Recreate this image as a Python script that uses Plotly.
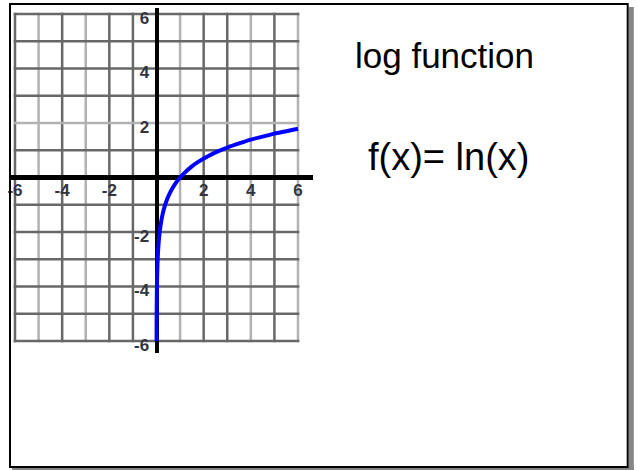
import plotly.graph_objects as go

# ---- data ----
curve_x = [0.0025, 0.004, 0.006, 0.01, 0.015, 0.02, 0.03, 0.045, 0.06, 0.08, 0.1, 0.13,
           0.17, 0.22, 0.28, 0.35, 0.45, 0.55, 0.7, 0.85, 1.0, 1.2, 1.5, 1.8, 2.2, 2.6,
           3.0, 3.5, 4.0, 4.5, 5.0, 5.5, 6.0]
curve_y = [-6.0, -5.52, -5.12, -4.61, -4.2, -3.91, -3.51, -3.1, -2.81, -2.53, -2.3, -2.04,
           -1.77, -1.51, -1.27, -1.05, -0.8, -0.6, -0.36, -0.16, 0.0, 0.18, 0.41, 0.59,
           0.79, 0.96, 1.1, 1.25, 1.39, 1.5, 1.61, 1.7, 1.79]

grid_x = [-6, -5, -4, -3, -2, -1, 1, 2, 3, 4, 5, 6]
grid_y = [-6, -5, -4, -3, -2, -1, 1, 2, 3, 4, 5, 6]
tick_vals = [-6, -4, -2, 2, 4, 6]
tick_text = ["-6", "-4", "-2", "2", "4", "6"]
title_text = "log function"
formula_text = "f(x)= ln(x)"

# ---- style ----
W, H = 637, 470
PL, PR, PT, PB = 10, 313, 8, 353          # plot area in pixels
X_MIN, X_MAX = -6.212, 6.636
Y_MIN, Y_MAX = -6.44, 6.22
DARK, LIGHT = "#686868", "#b2b2b2"
light_x = {-5, -3, 1, 4, 6}
light_y = {2}
LABEL_FONT = dict(family="Liberation Sans, Arial, sans-serif",
                  size=17, color="#34343f", weight="bold")


def px_x(p):
    return (p - PL) / (PR - PL)


def px_y(q):
    return (PB - q) / (PB - PT)


fig = go.Figure()
fig.add_trace(go.Scatter(x=curve_x, y=curve_y, mode="lines",
                         line=dict(color="#0000ff", width=4, shape="spline", smoothing=0.6),
                         hoverinfo="skip"))

shapes = []
ex, ey = 0.055, 0.047
for gx in grid_x:
    shapes.append(dict(type="line", xref="x", yref="y", x0=gx, x1=gx, y0=-6 - ey, y1=6 + ey,
                       line=dict(color=LIGHT if gx in light_x else DARK, width=2.5), layer="below"))
for gy in grid_y:
    shapes.append(dict(type="line", xref="x", yref="y", y0=gy, y1=gy, x0=-6 - ex, x1=6 + ex,
                       line=dict(color=LIGHT if gy in light_y else DARK, width=2.5), layer="below"))

# page frame with shadow
shapes.append(dict(type="line", xref="paper", yref="paper", x0=px_x(631.3), x1=px_x(631.3),
                   y0=px_y(7), y1=px_y(471), line=dict(color="#858585", width=5), layer="above"))
shapes.append(dict(type="line", xref="paper", yref="paper", x0=px_x(12), x1=px_x(634),
                   y0=px_y(469), y1=px_y(469), line=dict(color="#858585", width=2.5), layer="above"))
shapes.append(dict(type="rect", xref="paper", yref="paper", x0=px_x(10), x1=px_x(627.7),
                   y0=px_y(4), y1=px_y(467), line=dict(color="black", width=2), layer="above"))

x0_frac = (0 - X_MIN) / (X_MAX - X_MIN)
y0_frac = (0 - Y_MIN) / (Y_MAX - Y_MIN)

fig.update_layout(
    width=W, height=H,
    margin=dict(l=PL, r=W - PR, t=PT, b=H - PB, pad=0, autoexpand=False),
    paper_bgcolor="white", plot_bgcolor="white", showlegend=False,
    shapes=shapes,
    xaxis=dict(range=[X_MIN, X_MAX], showgrid=False, zeroline=True, zerolinecolor="black",
               zerolinewidth=4, showline=False, tickmode="array", tickvals=tick_vals,
               ticktext=tick_text, ticks="", anchor="free", position=y0_frac, side="bottom",
               tickfont=LABEL_FONT, automargin=False, fixedrange=True),
    yaxis=dict(range=[Y_MIN, Y_MAX], showgrid=False, zeroline=True, zerolinecolor="black",
               zerolinewidth=5, showline=False, tickmode="array", tickvals=tick_vals,
               ticktext=tick_text, ticks="outside", ticklen=4, tickcolor="rgba(0,0,0,0)",
               anchor="free", position=x0_frac, side="left",
               tickfont=LABEL_FONT, ticklabelshift=4,
               automargin=False, fixedrange=True),
    annotations=[
        dict(text=title_text, xref="paper", yref="paper", x=px_x(353), y=px_y(55),
             xanchor="left", yanchor="middle", showarrow=False,
             font=dict(family="Liberation Sans, Arial, sans-serif", size=35, color="black")),
        dict(text=formula_text, xref="paper", yref="paper", x=px_x(366), y=px_y(157),
             xanchor="left", yanchor="middle", showarrow=False,
             font=dict(family="Liberation Sans, Arial, sans-serif", size=38, color="black")),
    ],
)

fig.write_html("out.html", config={"displayModeBar": False},
               post_script="document.body.style.margin='0px';document.body.style.overflow='hidden';")
